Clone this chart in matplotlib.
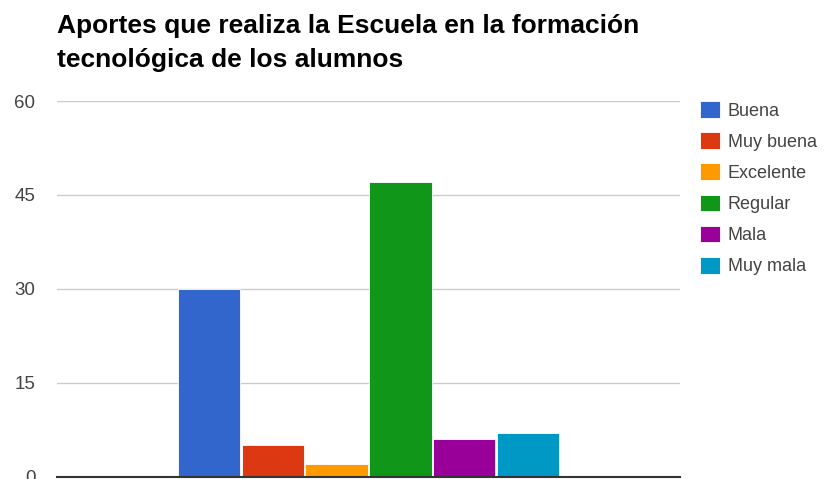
import matplotlib
matplotlib.use('Agg')
import matplotlib.pyplot as plt

plt.rcParams['font.family'] = ['Liberation Sans', 'DejaVu Sans']

categories = ['Buena', 'Muy buena', 'Excelente', 'Regular', 'Mala', 'Muy mala']
values = [30, 5, 2, 47, 6, 7]
colors = ['#3366cc', '#dc3912', '#ff9900', '#109618', '#990099', '#0099c6']
yticks = [0, 15, 30, 45, 60]

fig = plt.figure(figsize=(8.3, 4.79), dpi=100)
ax = fig.add_axes([57 / 830, 2.3 / 479, 623 / 830, 375.7 / 479])

bars = []
for i, (cat, val, col) in enumerate(zip(categories, values, colors)):
    b = ax.bar(i, val, width=0.97, color=col, edgecolor='white', linewidth=0.6,
               label=cat, zorder=3)
    bars.append(b)

ax.set_xlim(-2.37, 7.37)
ax.set_ylim(0, 60)
ax.set_yticks(yticks)
ax.set_xticks([])
ax.grid(axis='y', color='#cccccc', linewidth=1, zorder=0)
for s in ['top', 'right', 'left']:
    ax.spines[s].set_visible(False)
ax.spines['bottom'].set_color('#333333')
ax.spines['bottom'].set_linewidth(1.5)
ax.spines['bottom'].set_zorder(4)
ax.tick_params(axis='y', length=0, pad=15.5, labelsize=13.5, labelcolor='#444444')
ax.set_facecolor('white')

fig.text(57 / 830, 1 - 14 / 479, 'Aportes que realiza la Escuela en la formación\ntecnológica de los alumnos',
         fontsize=19, fontweight='bold', color='#000000', va='top', ha='left',
         linespacing=1.5)

fig.legend(handles=[b[0] for b in bars], labels=categories, loc='upper left',
           bbox_to_anchor=(700 / 830, 1 - 101 / 479), frameon=False,
           borderpad=0, borderaxespad=0, handlelength=1.1, handleheight=1.05,
           handletextpad=0.45, labelspacing=0.7, fontsize=13, labelcolor='#444444')

plt.savefig('out.png', dpi=100)
plt.close()
